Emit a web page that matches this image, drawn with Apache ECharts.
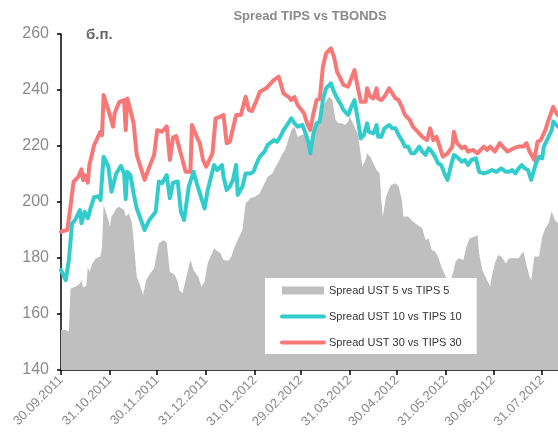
<!DOCTYPE html>
<html>
<head>
<meta charset="utf-8">
<script src="https://cdn.jsdelivr.net/npm/echarts@6/dist/echarts.min.js"></script>
<style>
html,body{margin:0;padding:0;background:#fff;}
#chart{width:558px;height:444px;}
</style>
</head>
<body>
<div id="chart"></div>
<script>
// Axis: calendar days from 30.09.2011 (day 0) to 10.08.2012 (day 315)
const startDate = [2011, 9, 30];
const dayCount = 316;
const yTicks = [140, 160, 180, 200, 220, 240, 260];
const seriesNames = ['Spread UST 5 vs TIPS 5', 'Spread UST 10 vs TIPS 10', 'Spread UST 30 vs TIPS 30'];

// [day since 30.09.2011, basis points]
const ust5 = [[0,154.3],[3,154.3],[4,153.7],[5,153.7],[6,169],[7,169.2],[10,170],[12,171],[13,172],[14,169.5],[16,170],[17,176.9],[18,175.1],[20,178.1],[22,179.9],[25,180.5],[26,184],[27,199],[28,198.3],[30,193.6],[31,191.2],[32,194.8],[34,196.5],[35,197.7],[37,198.3],[40,197.1],[41,194.8],[43,196],[45,192.4],[46,186.4],[48,173.3],[50,170.4],[52,166.8],[54,172.1],[56,174],[59,176.3],[60,179.3],[62,185.2],[65,186.4],[67,185.5],[69,175.1],[72,174],[74,171.5],[75,168.6],[77,167.4],[79,172.1],[82,179.3],[84,175.7],[87,173.3],[89,169.8],[91,171.5],[93,178.1],[97,183.5],[99,182.5],[101,181.7],[103,179.3],[106,179],[108,180.5],[110,184],[112,186.4],[115,190],[117,199.5],[120,201.3],[123,201.9],[126,203.1],[129,206.7],[131,209],[134,210.2],[136,212.6],[138,214.5],[140,217],[142,218.6],[144,222.1],[146,225.7],[148,226.9],[150,223.3],[153,224],[155,224.5],[156,222.1],[157,218.6],[159,222],[160,226.9],[162,228.1],[165,231.7],[167,235.2],[170,237.6],[172,236.4],[174,229.3],[176,228.1],[178,228.1],[180,227.5],[182,228.7],[183,230.5],[185,228.1],[188,224.5],[189,221],[191,212.6],[193,215],[194,217.4],[196,216.2],[198,213.8],[200,211.4],[202,210.2],[203,200.7],[204,194.8],[206,201.9],[209,206.1],[212,206.7],[214,205.5],[216,200.7],[217,194.8],[220,194.8],[223,193],[226,191.8],[229,190.6],[231,186.4],[233,187],[235,182.9],[237,182.3],[239,180.5],[241,176.9],[243,174.5],[245,172.1],[247,172.1],[249,175.7],[250,178.7],[252,179.9],[255,179.3],[257,184],[259,187],[262,187.6],[264,188.2],[265,181.7],[267,175.7],[270,172.1],[272,169.8],[273,173.3],[275,178.1],[277,181.1],[279,180.5],[282,178.1],[284,179.9],[287,179.9],[290,179.9],[293,182.3],[295,177.5],[297,173.3],[298,172],[300,180.5],[303,180.5],[305,187.6],[307,190.6],[309,192.4],[311,196.6],[313,193.6],[315,192.4]];

const ust10 = [[0,175.7],[3,172.1],[5,179.3],[7,192.4],[9,193.6],[12,197.1],[13,192.4],[15,196.5],[17,194.2],[19,198.3],[21,201.7],[24,202.1],[25,200.7],[27,216.2],[30,212.6],[32,203.7],[35,210.2],[38,212.9],[40,210.2],[41,201],[42,210.8],[44,209.6],[46,203.1],[48,197.7],[49,197.1],[53,190],[56,193.6],[60,196.5],[62,207.3],[64,206.7],[67,209.6],[69,201.3],[71,206.9],[74,207.3],[76,196.5],[78,193.6],[81,205.5],[84,210.8],[86,206.7],[88,203.1],[91,197.7],[93,204.3],[97,213.2],[99,211.4],[102,213.2],[103,209],[105,204.3],[107,205.5],[109,207.9],[111,213.2],[112,202.5],[115,205.5],[117,210.2],[120,210.2],[122,210.8],[124,213.8],[126,216.2],[129,218],[131,220.4],[135,222.1],[137,221.5],[139,223.3],[141,225.7],[144,228.1],[146,229.9],[148,228.1],[150,226.9],[153,227.5],[155,224.5],[157,220.9],[158,217.4],[160,224.5],[162,228.1],[164,228.7],[166,236.4],[168,240.6],[171,242.4],[173,239.4],[175,237],[177,235.2],[179,232.9],[182,231.1],[184,234],[186,236.4],[188,229.9],[190,222.7],[192,223.9],[194,228.1],[195,225.1],[198,224.5],[200,227.5],[201,223.3],[203,223.3],[205,226.3],[208,227.5],[210,226.3],[212,226.3],[214,223.9],[216,222.1],[218,219.8],[220,219.8],[222,217.4],[224,217.4],[227,219.8],[229,218],[231,216.8],[233,219.2],[235,218],[237,216.2],[239,213.8],[241,213.2],[243,210.2],[245,207.9],[247,212.6],[249,216.8],[252,215.6],[254,214.4],[256,215],[258,213.2],[260,215],[263,215.6],[264,216.2],[265,210.8],[268,210.2],[271,210.8],[273,211.4],[276,210.8],[279,212],[282,210.8],[284,210.8],[286,211.4],[288,210.2],[290,212],[292,213.2],[294,212],[296,211.4],[298,207.9],[301,213.8],[303,216.2],[305,215.6],[306,219.8],[308,222.1],[311,225.7],[312,228.7],[314,227.5],[315,226.9]];

const ust30 = [[0,189.4],[4,190],[6,198.3],[8,207.3],[11,209],[13,211.7],[14,207.8],[15,209.6],[17,206.9],[18,213.2],[19,213.8],[21,220.3],[23,222.7],[25,225.1],[26,223.9],[27,238.2],[30,232.9],[33,226.9],[34,231.7],[37,235.8],[40,236.4],[41,225.7],[42,237],[44,232.9],[46,228.1],[48,216.8],[49,216.2],[53,207.9],[56,212.6],[59,216.8],[61,225.7],[64,225.1],[67,227],[69,215],[71,223],[73,223.5],[77,215],[79,210.8],[82,210.8],[83,227.5],[86,223.3],[88,221],[90,215],[92,212.6],[96,217.4],[98,229.9],[101,230.5],[103,231.1],[105,221],[107,221.5],[111,231.1],[114,231.1],[117,237.6],[119,232.9],[121,232.5],[124,236.4],[126,239.4],[130,240.6],[135,243.6],[138,244.8],[139,244.8],[141,238.8],[144,237.6],[146,236.4],[148,237.5],[150,234.6],[154,231.7],[156,228.1],[158,225.7],[160,231.7],[162,236.4],[164,236.8],[166,248.3],[168,253.1],[171,254.9],[173,251.9],[175,246.5],[177,244.2],[179,241.8],[182,241.2],[184,244.2],[186,247.1],[188,241.2],[190,235.8],[193,235.8],[194,240.6],[196,237.6],[198,237],[200,240.6],[201,237],[203,236.4],[205,237.6],[208,240.6],[210,238.8],[212,237],[214,236.4],[216,234],[218,231.1],[221,229.3],[223,226.9],[226,225.1],[229,223.3],[232,222.1],[234,226.3],[236,222.1],[238,223.3],[240,219.8],[242,216.2],[245,217.4],[248,219.8],[249,225.1],[251,221],[254,219.2],[256,219.8],[258,218],[261,218.6],[264,217.4],[266,218.6],[268,219.8],[270,218.6],[272,219.8],[275,218],[278,221],[280,219.8],[283,218],[287,219.2],[290,219.8],[293,219.8],[295,221],[297,218],[300,215],[302,221.5],[304,222.1],[307,225.7],[309,229.3],[312,234],[314,231.7],[315,231]];

// build calendar-day categories
function pad(n){return (n<10?'0':'')+n;}
const categories = [];
const monthEnd = [];
for (let i = 0; i < dayCount; i++) {
  const d = new Date(Date.UTC(startDate[0], startDate[1]-1, startDate[2] + i));
  const nx = new Date(Date.UTC(startDate[0], startDate[1]-1, startDate[2] + i + 1));
  categories.push(pad(d.getUTCDate()) + '.' + pad(d.getUTCMonth()+1) + '.' + d.getUTCFullYear());
  monthEnd.push(nx.getUTCMonth() !== d.getUTCMonth());
}
const toData = arr => arr.map(p => [categories[p[0]], p[1]]);
const showMonthEnd = (idx) => monthEnd[idx];

const FONT = '"Liberation Sans", Arial, sans-serif';
const chart = echarts.init(document.getElementById('chart'), null, {renderer: 'canvas'});
chart.setOption({
  animation: false,
  backgroundColor: '#ffffff',
  grid: {left: 61, right: 0, top: 34, bottom: 74, containLabel: false},
  graphic: [
    {type: 'text', x: 310, y: 16, z: 100, style: {text: 'Spread TIPS vs TBONDS', align: 'center', verticalAlign: 'middle', fill: '#8a8a8a', font: 'bold 13px ' + FONT}},
    {type: 'text', x: 86, y: 35, z: 100, style: {text: 'б.п.', align: 'left', verticalAlign: 'middle', fill: '#666666', font: 'bold 15px ' + FONT}}
  ],
  legend: {
    orient: 'vertical',
    left: 265, top: 278,
    padding: [7, 15, 6, 15],
    backgroundColor: '#ffffff',
    itemWidth: 42, itemHeight: 8, itemGap: 15,
    textStyle: {fontFamily: FONT, fontSize: 11, color: '#333333'},
    lineStyle: {cap: 'round', width: 4},
    data: [
      {name: seriesNames[0], icon: 'rect'},
      {name: seriesNames[1], itemStyle: {opacity: 0, borderWidth: 0}},
      {name: seriesNames[2], itemStyle: {opacity: 0, borderWidth: 0}}
    ]
  },
  xAxis: {
    type: 'category',
    data: categories,
    boundaryGap: false,
    axisLine: {lineStyle: {color: '#000', width: 1.5}},
    axisTick: {show: true, interval: showMonthEnd, length: 5, lineStyle: {color: '#000', width: 1.5}},
    axisLabel: {interval: showMonthEnd, rotate: 45, fontFamily: FONT, fontSize: 13, color: '#8a8a8a', margin: 8},
    splitLine: {show: false}
  },
  yAxis: {
    type: 'value',
    min: yTicks[0], max: yTicks[yTicks.length-1], interval: 20,
    axisLine: {show: true, lineStyle: {color: '#000', width: 1.5}},
    axisTick: {show: true, length: 4, lineStyle: {color: '#000', width: 1.5}},
    axisLabel: {fontFamily: FONT, fontSize: 16, color: '#8a8a8a', margin: 12},
    splitLine: {show: false}
  },
  series: [
    {name: seriesNames[0], type: 'line', data: toData(ust5), symbol: 'none', itemStyle: {color: '#BFBFBF'},
     lineStyle: {width: 0, color: '#BFBFBF'}, areaStyle: {color: '#BFBFBF', opacity: 1}, z: 1},
    {name: seriesNames[1], type: 'line', data: toData(ust10), symbol: 'none', itemStyle: {color: '#33CCCC'},
     lineStyle: {width: 4, color: '#33CCCC', cap: 'round', join: 'round'}, z: 3},
    {name: seriesNames[2], type: 'line', data: toData(ust30), symbol: 'none', itemStyle: {color: '#F87878'},
     lineStyle: {width: 4, color: '#F87878', cap: 'round', join: 'round'}, z: 2}
  ]
});
</script>
</body>
</html>
